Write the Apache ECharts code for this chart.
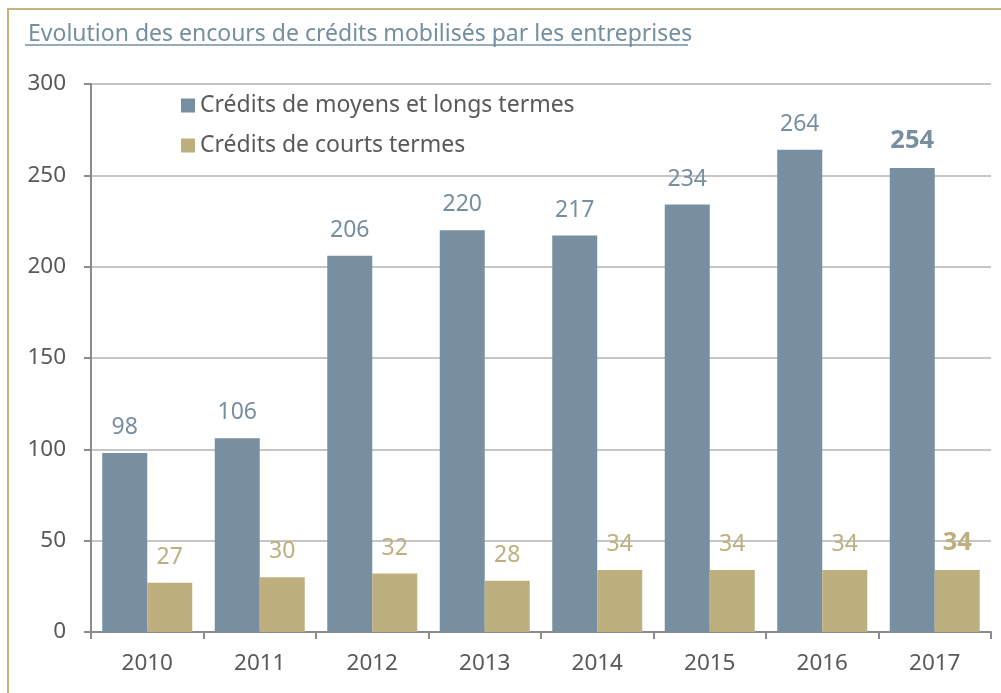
<!DOCTYPE html>
<html><head><meta charset="utf-8">
<script src="https://cdn.jsdelivr.net/npm/echarts@6/dist/echarts.min.js"></script>
<style>html,body{margin:0;padding:0;background:#fff}#c{width:1001px;height:693px}</style>
</head><body><div id="c"></div>
<script>
const years = ['2010','2011','2012','2013','2014','2015','2016','2017'];
const longTerm = [98,106,206,220,217,234,264,254];
const shortTerm = [27,30,32,28,34,34,34,34];
const seriesNames = ['Crédits de moyens et longs termes','Crédits de courts termes'];
const titleText = 'Evolution des encours de crédits mobilisés par les entreprises';

const FONT = 'Noto Sans';
const BLUE = '#778fa0', BEIGE = '#bdaf7e';
function lbl(color, arr){
  return {show:true, position:'top', distance:14, fontFamily:FONT, fontSize:23, color:color,
    formatter: p => p.dataIndex === arr.length-1 ? '{b|'+p.value+'}' : String(p.value),
    rich:{b:{fontWeight:'bold', fontSize:25.5, color:color, fontFamily:FONT}}};
}
const chart = echarts.init(document.getElementById('c'));
chart.setOption({
  animation:false,
  title:{text:titleText, left:23, top:18, textStyle:{fontFamily:FONT, fontSize:23, fontWeight:'normal', color:'#758fa0'}},
  graphic:[
    {type:'rect', shape:{x:8,y:9,width:1100,height:800}, style:{fill:'none', stroke:'#c4b47e', lineWidth:2}, z:-1},
    {type:'line', shape:{x1:25,y1:45,x2:688,y2:45}, style:{stroke:'#758fa0', lineWidth:1.5}}
  ],
  legend:{orient:'vertical', left:176, top:89, itemGap:17, itemWidth:14, itemHeight:14, icon:'rect',
    textStyle:{fontFamily:FONT, fontSize:23, color:'#595959'}},
  grid:{left:91, right:10, top:84, bottom:61},
  xAxis:{type:'category', data:years,
    axisLine:{lineStyle:{color:'#8c8c8c', width:2}},
    axisTick:{show:true, length:7, lineStyle:{color:'#8c8c8c', width:2}},
    axisLabel:{fontFamily:FONT, fontSize:22.5, color:'#595959', margin:20}},
  yAxis:{type:'value', min:0, max:300, interval:50,
    axisLine:{show:true, lineStyle:{color:'#8c8c8c', width:2}},
    axisTick:{show:true, length:7, lineStyle:{color:'#8c8c8c', width:2}},
    splitLine:{lineStyle:{color:'#c6c6c6', width:2}},
    axisLabel:{fontFamily:FONT, fontSize:22.5, color:'#595959', margin:25}},
  series:[
    {name:seriesNames[0], type:'bar', data:longTerm, itemStyle:{color:BLUE}, barGap:'0%', barCategoryGap:'20%', label:lbl(BLUE, longTerm)},
    {name:seriesNames[1], type:'bar', data:shortTerm, itemStyle:{color:BEIGE}, label:lbl(BEIGE, shortTerm)}
  ]
});
</script></body></html>
